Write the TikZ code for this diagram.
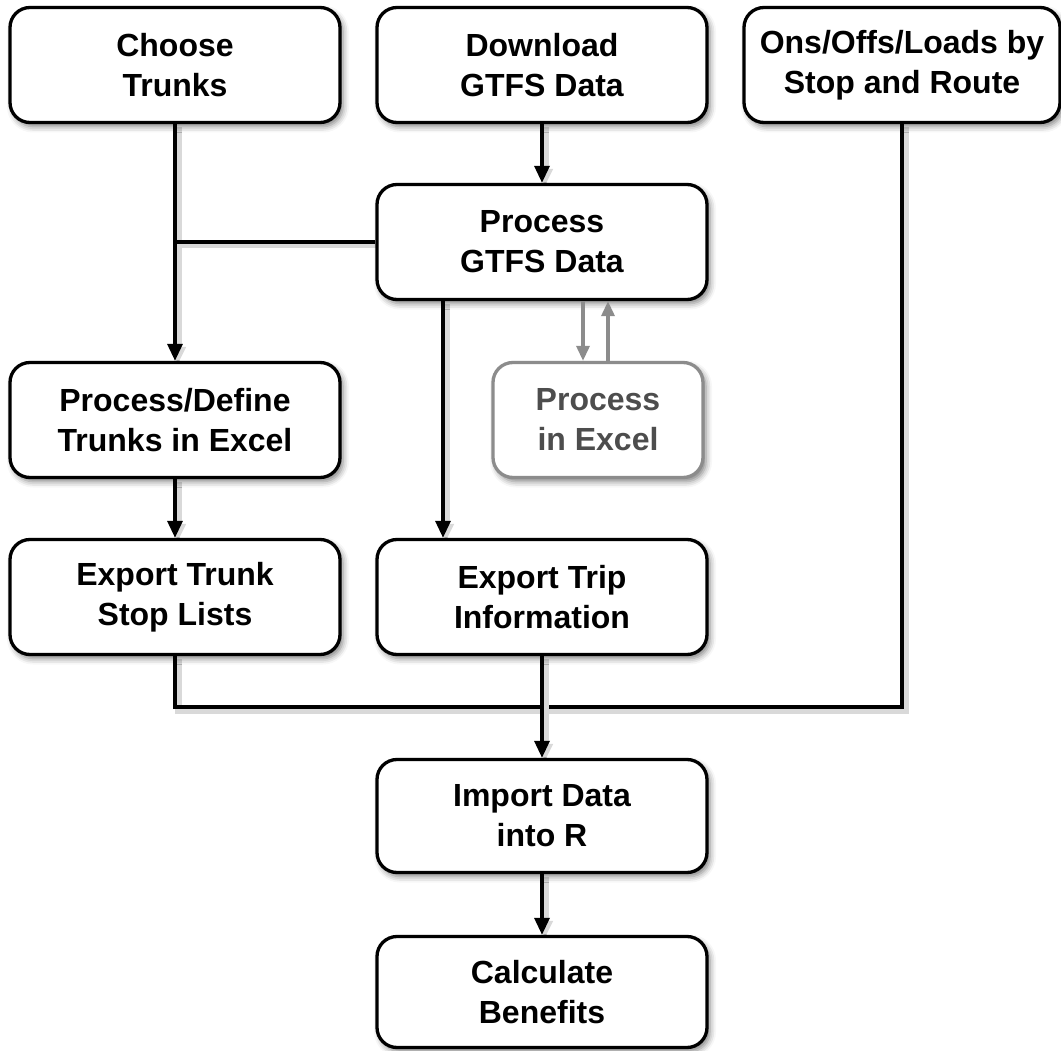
\documentclass[tikz,border=0pt]{standalone}
\usepackage{fontspec}
\setmainfont{Liberation Sans}
\usetikzlibrary{arrows.meta,shadows.blur,calc}
\pgfdeclarelayer{background}
\pgfsetlayers{background,main}
\definecolor{linegray}{HTML}{8C8C8C}
\definecolor{textgray}{HTML}{4D4D4D}
\begin{document}
\begin{tikzpicture}[x=1pt,y=-1pt,
  box/.style={draw=black, line width=3.3pt, rounded corners=20pt, fill=white,
    minimum width=330pt, minimum height=115pt, align=center, inner sep=0pt,
    font=\fontsize{32}{40}\selectfont\bfseries,
    blur shadow={shadow xshift=3pt, shadow yshift=-4pt, shadow blur radius=6pt, shadow opacity=50}},
  graybox/.style={box, draw=linegray, text=textgray, minimum width=210pt},
  conn/.style={line width=3.3pt, preaction={draw=black!15, line width=7pt, transform canvas={shift={(3pt,-3pt)}}}},
  arr/.style={conn, -{Triangle[length=17pt,width=15pt]}},
  garr/.style={line width=3.3pt, draw=linegray, -{Triangle[length=15pt,width=13pt]}},
]
\useasboundingbox (0,0) rectangle (1061,1051);

\node[box] (choose)   at (175,65)  {Choose\\Trunks};
\node[box] (download) at (542,65)  {Download\\GTFS Data};
\node[box, minimum width=316pt] (ons) at (902,65) {Ons/Offs/Loads by\\Stop and Route};
\node[box] (gtfs)     at (542,242) {Process\\GTFS Data};
\node[box] (define)   at (175,420) {Process/Define\\Trunks in Excel};
\node[graybox] (excel) at (598,420) {Process\\in Excel};
\node[box] (trunk)    at (175,597) {Export Trunk\\Stop Lists};
\node[box] (trip)     at (542,597) {Export Trip\\Information};
\node[box, minimum height=113pt] (import) at (542,816) {Import Data\\into R};
\node[box, minimum height=111pt] (calc)   at (542,992) {Calculate\\Benefits};

\coordinate (merge) at (542,707);

\begin{pgfonlayer}{background}
\draw[arr] (choose.south) -- (define.north);
\draw[conn] (gtfs.west) -- (gtfs.west -| choose.south);
\draw[arr] (download.south) -- (gtfs.north);
\draw[arr] ([xshift=-99pt]gtfs.south) -- ([xshift=-99pt]gtfs.south |- trip.north);
\draw[arr] (define.south) -- (trunk.north);
\draw[conn] (trunk.south) |- (merge);
\draw[conn] (ons.south) |- (merge);
\draw[arr] (trip.south) -- (import.north);
\draw[arr] (import.south) -- (calc.north);
\end{pgfonlayer}
\draw[garr] ([xshift=41pt]gtfs.south) -- ([xshift=41pt]gtfs.south |- excel.north);
\draw[garr] ([xshift=66pt]gtfs.south |- excel.north) -- ([xshift=66pt]gtfs.south);
\end{tikzpicture}
\end{document}
